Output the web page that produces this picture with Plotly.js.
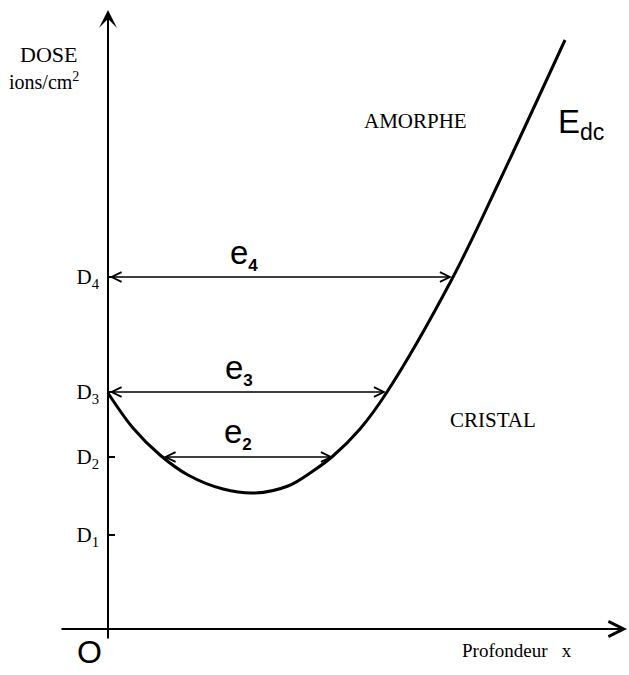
<!DOCTYPE html>
<html>
<head>
<meta charset="utf-8">
<script src="https://cdn.plot.ly/plotly-3.0.1.min.js"></script>
<style>
  html, body { margin: 0; padding: 0; background: #fff; }
  #graph { width: 629px; height: 675px; }
</style>
</head>
<body>
<div id="graph"></div>
<script>
// curve E_dc : profondeur (x) vs dose
var depth = [0, 25, 52, 80, 115, 147, 180, 205, 225, 252, 279, 344, 392, 457];
var dose = [236, 201, 174, 154, 140, 136, 143, 158, 173, 200, 237, 350, 449, 589];

// dose levels on the vertical axis
var levelDose = [94, 172, 237, 352];
var levelText = ['D<sub>1</sub>', 'D<sub>2</sub>', 'D<sub>3</sub>', 'D<sub>4</sub>'];

// thickness arrows e2, e3, e4
var eName = ['e', 'e', 'e'];
var eSub = ['2', '3', '4'];
var eDose = [172, 237, 352];
var eStart = [54, 0, 0];
var eEnd = [225, 278, 344];

var serif = 'Liberation Serif, Times New Roman, serif';
var sans = 'Liberation Sans, Arial, sans-serif';

var trace = {
  x: depth,
  y: dose,
  mode: 'lines',
  line: { color: 'black', width: 3, shape: 'spline', smoothing: 1 },
  hoverinfo: 'skip',
  type: 'scatter'
};

var annotations = [];

// axes drawn as arrows
annotations.push({
  x: 0, y: 619, ax: 0, ay: -11, xref: 'x', yref: 'y', axref: 'x', ayref: 'y',
  text: '', showarrow: true, arrowhead: 3, arrowsize: 1.5, arrowwidth: 2, arrowcolor: 'black'
});
annotations.push({
  x: 519, y: 0, ax: -48, ay: 0, xref: 'x', yref: 'y', axref: 'x', ayref: 'y',
  text: '', showarrow: true, arrowhead: 5, arrowsize: 1.5, arrowwidth: 2, arrowcolor: 'black'
});

// e arrows
for (var i = 0; i < eDose.length; i++) {
  annotations.push({
    x: eEnd[i], y: eDose[i], ax: eStart[i], ay: eDose[i],
    xref: 'x', yref: 'y', axref: 'x', ayref: 'y',
    text: '', showarrow: true, arrowside: 'end+start',
    arrowhead: 5, startarrowhead: 5, arrowsize: 1.5, startarrowsize: 1.5,
    arrowwidth: 1.3, arrowcolor: 'black'
  });
}
var eLabelX = [130, 131, 136];
var eLabelY = [196, 260, 375];
for (var j = 0; j < eName.length; j++) {
  annotations.push({
    x: eLabelX[j], y: eLabelY[j], xref: 'x', yref: 'y', showarrow: false,
    text: eName[j] + '<sub><span style="font-size:17px"><b>' + eSub[j] + '</b></span></sub>',
    font: { family: sans, size: 33, color: 'black' }
  });
}

function label(x, y, text, family, size, anchor) {
  annotations.push({
    x: x, y: y, xref: 'x', yref: 'y', showarrow: false, text: text,
    xanchor: anchor || 'center', font: { family: family, size: size, color: 'black' }
  });
}

label(-60, 575, 'DOSE', serif, 22);
label(-64, 548, 'ions/cm<sup>2</sup>', serif, 20);
label(307, 508, 'AMORPHE', serif, 21);
label(385, 209, 'CRISTAL', serif, 21);
label(448, 505, 'E<sub>dc</sub>', sans, 33, 'left');
label(-19, -23, 'O', sans, 32);
label(409, -21, 'Profondeur&nbsp;&nbsp; x', serif, 19);

var layout = {
  width: 629,
  height: 675,
  margin: { l: 0, r: 0, t: 0, b: 0 },
  paper_bgcolor: 'white',
  plot_bgcolor: 'white',
  showlegend: false,
  xaxis: {
    range: [-108, 521],
    visible: false,
    fixedrange: true
  },
  yaxis: {
    range: [-46, 629],
    anchor: 'free',
    position: 108 / 629,
    showgrid: false,
    zeroline: false,
    showline: false,
    ticks: 'inside',
    ticklen: 6,
    tickwidth: 2,
    tickcolor: 'black',
    tickvals: levelDose,
    ticktext: levelText,
    ticklabelstandoff: 9,
    tickfont: { family: serif, size: 21, color: 'black' },
    fixedrange: true
  },
  annotations: annotations
};

Plotly.newPlot('graph', [trace], layout, { displayModeBar: false, staticPlot: true });
</script>
</body>
</html>
